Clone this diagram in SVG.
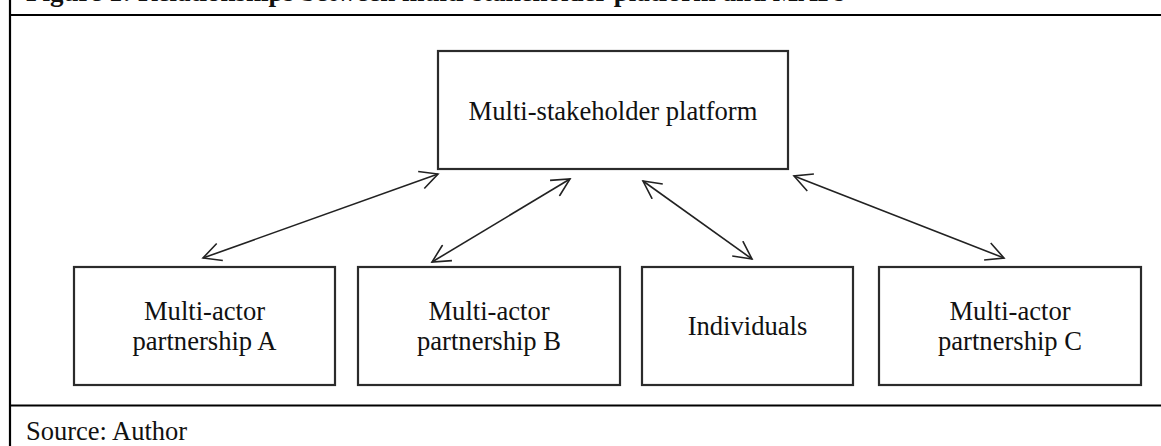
<svg xmlns="http://www.w3.org/2000/svg" width="1161" height="446" viewBox="0 0 1161 446">
<defs>
<style>
.frame{stroke:#000;stroke-width:2.2;fill:none}
.box{fill:#fff;stroke:#2b2b2b;stroke-width:2.2}
.lbl{font-family:"Liberation Serif","Times New Roman",serif;font-size:26.6px;fill:#111;text-anchor:middle}
.title{font-family:"Liberation Serif","Times New Roman",serif;font-size:27px;font-weight:bold;fill:#111}
.src{font-family:"Liberation Serif","Times New Roman",serif;font-size:26.5px;fill:#111}
.conn{stroke:#222;stroke-width:1.6;fill:none;marker-start:url(#ah);marker-end:url(#ah)}
</style>
<marker id="ah" viewBox="-20 -10 22 20" refX="0" refY="0" markerWidth="22" markerHeight="20" markerUnits="userSpaceOnUse" orient="auto-start-reverse">
<path d="M-17.8,-9.1 L0,0 L-17.8,9.1" fill="none" stroke="#222" stroke-width="1.6"/>
</marker>
</defs>
<text class="title" x="26" y="0.5">Figure 1: Relationships between multi-stakeholder platform and MAPs</text>
<g id="frame">
<line class="frame" x1="10" y1="0" x2="10" y2="446"/>
<line class="frame" x1="9" y1="15" x2="1161" y2="15"/>
<line class="frame" x1="9" y1="405.5" x2="1161" y2="405.5"/>
</g>
<g id="msp">
<rect class="box" x="438" y="51" width="350" height="118"/>
<text class="lbl" x="613" y="120">Multi-stakeholder platform</text>
</g>
<g id="mapA">
<rect class="box" x="74" y="267" width="261" height="118"/>
<text class="lbl" x="204.5" y="320">Multi-actor</text>
<text class="lbl" x="204.5" y="350">partnership A</text>
</g>
<g id="mapB">
<rect class="box" x="358" y="267" width="262" height="118"/>
<text class="lbl" x="489" y="320">Multi-actor</text>
<text class="lbl" x="489" y="350">partnership B</text>
</g>
<g id="individuals">
<rect class="box" x="642" y="267" width="211" height="118"/>
<text class="lbl" x="747.5" y="335">Individuals</text>
</g>
<g id="mapC">
<rect class="box" x="879" y="267" width="262" height="118"/>
<text class="lbl" x="1010" y="320">Multi-actor</text>
<text class="lbl" x="1010" y="350">partnership C</text>
</g>
<g id="connectors">
<line class="conn" x1="203" y1="258" x2="438" y2="174"/>
<line class="conn" x1="432" y1="262" x2="570" y2="179"/>
<line class="conn" x1="643" y1="181" x2="752" y2="259"/>
<line class="conn" x1="794" y1="176" x2="1004" y2="258"/>
</g>
<text class="src" x="26" y="440">Source: Author</text>
</svg>
